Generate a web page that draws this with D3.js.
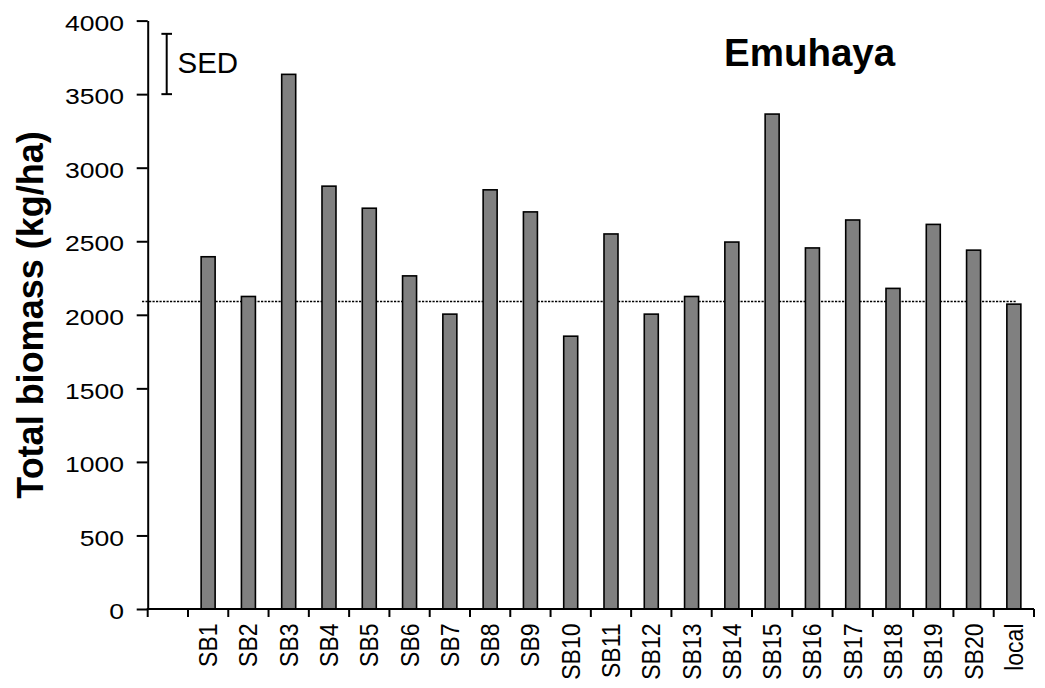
<!DOCTYPE html>
<html>
<head>
<meta charset="utf-8">
<script src="https://cdn.jsdelivr.net/npm/d3@7"></script>
<style>
  html, body { margin: 0; padding: 0; background: #fff; }
  svg { display: block; }
  text { font-family: "Liberation Sans", Arial, sans-serif; fill: #000; }
</style>
</head>
<body>
<svg id="chart" width="1045" height="688"></svg>
<script>
// ---- data ----
const categories = ["SB1","SB2","SB3","SB4","SB5","SB6","SB7","SB8","SB9","SB10",
  "SB11","SB12","SB13","SB14","SB15","SB16","SB17","SB18","SB19","SB20","local"];
const biomass = [2400, 2130, 3640, 2880, 2730, 2270, 2010, 2855, 2705, 1860,
  2555, 2010, 2130, 2500, 3370, 2460, 2650, 2185, 2620, 2445, 2078];
const yTicks = [0, 500, 1000, 1500, 2000, 2500, 3000, 3500, 4000];
const referenceLine = 2090;
const sedRange = [3500, 3910];
const chartTitle = "Emuhaya";
const yTitle = "Total biomass (kg/ha)";
const sedLabel = "SED";

// ---- layout ----
const svg = d3.select("#chart");
const plotLeft = 147.7, plotRight = 1034, plotTop = 20.6, plotBottom = 609;

const x = d3.scaleBand().domain(["", ...categories]).range([plotLeft, plotRight]).padding(0);
const y = d3.scaleLinear().domain([0, 4000]).range([plotBottom, plotTop]);
const step = x.step();

// y axis
const yAxis = d3.axisLeft(y).tickValues(yTicks).tickSize(11).tickSizeOuter(0).tickFormat("");
const gy = svg.append("g").attr("transform", `translate(${plotLeft},0)`).call(yAxis);
gy.select(".domain").attr("stroke", "#000").attr("stroke-width", 2);
gy.selectAll(".tick line").attr("stroke", "#000").attr("stroke-width", 2);

// y tick labels (horizontally stretched like the original)
svg.append("g").selectAll("text").data(yTicks).join("text")
  .attr("transform", d => `translate(124,${y(d) + 10.2}) scale(1.18,1)`)
  .attr("text-anchor", "end")
  .style("font-size", "22.5px")
  .text(d => d);

// reference dotted line
svg.append("line")
  .attr("x1", 142).attr("x2", 1016)
  .attr("y1", y(referenceLine)).attr("y2", y(referenceLine))
  .attr("stroke", "#000").attr("stroke-width", 1.6)
  .attr("stroke-dasharray", "2.2,1.3");

// bars
const barW = 14;
svg.append("g").selectAll("rect").data(categories).join("rect")
  .attr("x", (d) => x(d) + step / 2 - barW / 2)
  .attr("width", barW)
  .attr("y", (d, i) => y(biomass[i]) + 0.8)
  .attr("height", (d, i) => y(0) - y(biomass[i]) - 0.8)
  .attr("fill", "#808080")
  .attr("stroke", "#000")
  .attr("stroke-width", 1.6);

// x axis line and boundary ticks
const boundaries = x.domain().map(d => x(d)).concat([plotRight]);
svg.append("line")
  .attr("x1", plotLeft - 1).attr("x2", plotRight)
  .attr("y1", plotBottom).attr("y2", plotBottom)
  .attr("stroke", "#000").attr("stroke-width", 2);
svg.append("g").selectAll("line").data(boundaries).join("line")
  .attr("x1", d => d).attr("x2", d => d)
  .attr("y1", plotBottom).attr("y2", plotBottom + 8)
  .attr("stroke", "#000").attr("stroke-width", 2);

// x labels rotated
svg.append("g").selectAll("text").data(categories).join("text")
  .attr("transform", d => `translate(${x(d) + step / 2 + 9},623.5) rotate(-90) scale(1,1.1)`)
  .attr("text-anchor", "end")
  .style("font-size", "23px")
  .text(d => d);

// y axis title
svg.append("text")
  .attr("transform", "translate(43,315) rotate(-90)")
  .attr("text-anchor", "middle")
  .style("font-size", "36px")
  .style("font-weight", "bold")
  .text(yTitle);

// chart title
svg.append("text")
  .attr("x", 724).attr("y", 66)
  .style("font-size", "38.5px")
  .style("font-weight", "bold")
  .text(chartTitle);

// SED bar
const sedX = 166.7, capHalf = 5.3;
const sed = svg.append("g").attr("stroke", "#000").attr("stroke-width", 2);
sed.append("line").attr("x1", sedX).attr("x2", sedX).attr("y1", y(sedRange[0])).attr("y2", y(sedRange[1]));
sed.append("line").attr("x1", sedX - capHalf).attr("x2", sedX + capHalf).attr("y1", y(sedRange[0])).attr("y2", y(sedRange[0]));
sed.append("line").attr("x1", sedX - capHalf).attr("x2", sedX + capHalf).attr("y1", y(sedRange[1])).attr("y2", y(sedRange[1]));
svg.append("text")
  .attr("x", 177.5).attr("y", 72.5)
  .style("font-size", "29.5px")
  .text(sedLabel);
</script>
</body>
</html>
